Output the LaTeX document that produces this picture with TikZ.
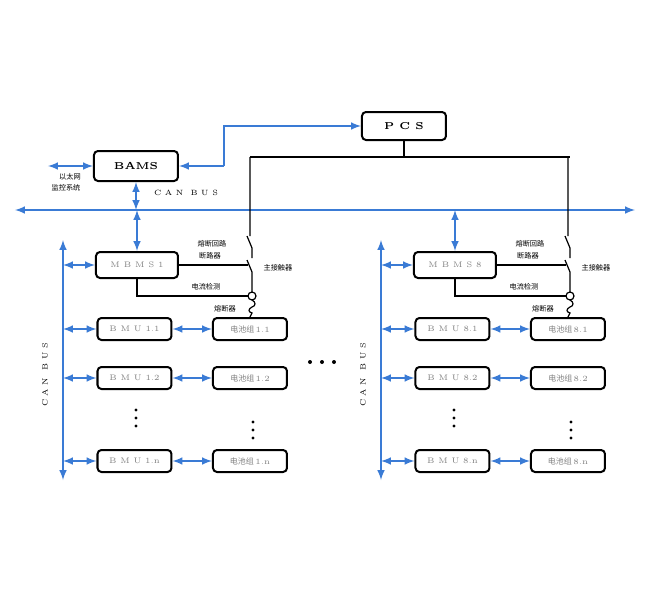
\documentclass[tikz,border=0pt]{standalone}
\usepackage{fontspec}
\newfontfamily\cjk{Noto Sans CJK SC}
\definecolor{busblue}{HTML}{3A7BD5}
\begin{document}
\begin{tikzpicture}[x=0.5pt,y=-0.5pt,
  box/.style={draw,line width=1pt,rounded corners=2pt,inner sep=0pt,font=\fontsize{4}{5}\selectfont},
  bl/.style={draw=busblue,line width=0.7pt,>={latex}},
  wire/.style={draw,line width=0.6pt},
  lab/.style={font=\cjk\fontsize{3.6}{4.5}\selectfont,inner sep=0pt},
  dot/.style={circle,fill=black,inner sep=0pt,minimum size=2pt},
  gt/.style={text=black!50}]
\useasboundingbox (0,0) rectangle (650,600);
\node[box,minimum width=42pt,minimum height=14pt,font=\bfseries\fontsize{5}{6}\selectfont] (pcs) at (404,126) {P C S};
\node[box,minimum width=42pt,minimum height=15pt,font=\bfseries\fontsize{5}{6}\selectfont] (bams) at (136,166) {BAMS};
\coordinate (eth) at (48,166);
\draw[bl,<->] (eth) -- (bams.west);
\node[lab] (t1) at (70,177) {以太网};
\node[lab] (t2) at (66,188) {监控系统};
\node[lab,font=\fontsize{3.8}{4.5}\selectfont] (cb) at (186,193) {C A N\ \ B U S};
\coordinate (k1) at (224,166);\coordinate (k2) at (224,126);
\draw[bl,->] (k1) -- (bams.east);
\draw[bl,->] (k1) -- (k2) -- (pcs.west);
\coordinate (busL) at (15,210);\coordinate (busR) at (635,210);
\draw[bl,<->] (busL) -- (busR);
\coordinate (bb) at (136,210);
\draw[bl,<->] (bams.south) -- (bb);
\coordinate (p1) at (404,157);\coordinate (pa) at (250,157);\coordinate (pb) at (570,157);
\draw[wire] (pcs.south) -- (p1) (pa) -- (pb);
\node[dot] (hd1) at (310,362) {};\node[dot] (hd2) at (322,362) {};\node[dot] (hd3) at (334,362) {};
\foreach \g/\dx/\n in {1/0/1, 8/318/8}{
  \begin{scope}[xshift=\dx*0.5pt]
  \node[box,minimum width=41pt,minimum height=13pt,gt] (m\g) at (137,265) {M B M S \n};
  \draw[bl,<->] (m\g.north) -- (137,210);
  \coordinate (cv\g) at (63,240);\coordinate (cw\g) at (63,480);
  \draw[bl,<->] (cv\g) -- (cw\g);
  \node[lab,font=\fontsize{3.8}{4.5}\selectfont,rotate=90] (can\g) at (45,375) {C A N\ \ B U S};
  \draw[bl,<->] (63,265) -- (m\g.west);
  \foreach \r/\y/\s in {1/329/\n.1,2/378/\n.2,3/461/\n.n}{
    \node[box,minimum width=37pt,minimum height=11pt,gt] (u\g\r) at (134.5,\y) {B M U \s};
    \node[box,minimum width=37pt,minimum height=11pt,gt] (c\g\r) at (250,\y) {\cjk 电池组\,\rmfamily \s};
    \draw[bl,<->] (63,\y) -- (u\g\r.west);
    \draw[bl,<->] (u\g\r.east) -- (c\g\r.west);
  }
  \foreach \k/\yy in {1/410,2/418,3/426}{
    \node[dot,minimum size=1.6pt] (da\g\k) at (136,\yy) {};
    \node[dot,minimum size=1.6pt] (db\g\k) at (253,\yy+12) {};}
  \draw[wire] (250,157) -- (250,236) (247,236) -- (252,248) -- (252,258) (247,260) -- (252,272) -- (252,292);
  \draw[wire] (m\g.east) -- (248,265);
  \draw[wire] (m\g.south) -- (137,296) -- (248,296);
  \draw[wire] (252,296) circle (4);
  \draw[wire] (252,300) .. controls (256,302) and (256,306) .. (252,307) .. controls (248,309) and (248,312) .. (252,313) -- (c\g1.north);
  \node[lab] (a\g) at (212,244) {熔断回路};
  \node[lab] (b\g) at (210,256) {断路器};
  \node[lab] (e\g) at (278,268) {主接触器};
  \node[lab] (f\g) at (206,287) {电流检测};
  \node[lab] (h\g) at (225,309) {熔断器};
  \end{scope}
}
\end{tikzpicture}
\end{document}
